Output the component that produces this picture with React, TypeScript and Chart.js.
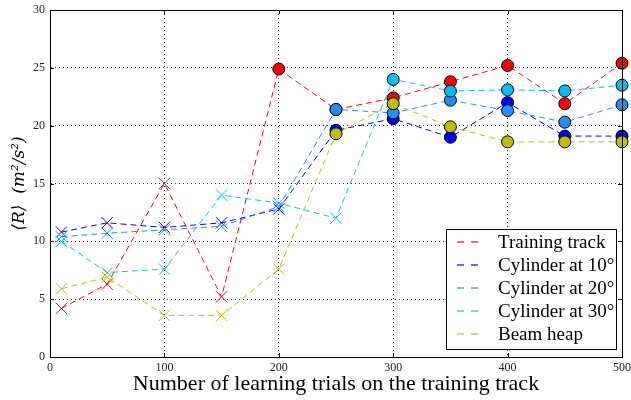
import React, { useEffect, useRef } from 'react';
import { Chart, registerables } from 'chart.js';
Chart.register(...registerables);

const trials = [10, 50, 100, 150, 200, 250, 300, 350, 400, 450, 500];
const seriesNames = ['Training track', 'Cylinder at 10°', 'Cylinder at 20°', 'Cylinder at 30°', 'Beam heap'];
const trainingTrack = [4.2, 6.3, 15.0, 5.2, 24.9, 21.4, 22.4, 23.8, 25.2, 21.9, 25.4];
const cylinder10 = [10.8, 11.6, 11.2, 11.6, 12.8, 19.6, 20.6, 19.0, 22.0, 19.1, 19.1];
const cylinder20 = [10.4, 10.7, 11.0, 11.3, 13.0, 21.4, 21.1, 22.2, 21.3, 20.3, 21.8];
const cylinder30 = [10.0, 7.3, 7.6, 14.0, 13.3, 12.0, 24.0, 23.0, 23.1, 23.0, 23.5];
const beamHeap = [5.9, 6.9, 3.6, 3.6, 7.6, 19.3, 21.9, 19.9, 18.6, 18.6, 18.6];
const xTicks = [0, 100, 200, 300, 400, 500];
const yTicks = [0, 5, 10, 15, 20, 25, 30];

const colors = ['#ff0000', '#0000ff', '#1e90ff', '#00bfff', '#bfbf00'];
const legendColors = ['rgba(255,0,0,0.6)', 'rgba(0,0,255,0.6)', 'rgba(30,144,255,0.6)', 'rgba(0,191,255,0.6)', 'rgba(191,191,0,0.6)'];
const SERIF = '"Liberation Serif", "DejaVu Serif", serif';
const WIDE_SERIF = '"DejaVu Serif", "Liberation Serif", serif';

export default function App() {
  const ref = useRef<HTMLCanvasElement>(null);
  useEffect(() => {
    const all = [trainingTrack, cylinder10, cylinder20, cylinder30, beamHeap];
    const isCircle = (v: number) => v >= 17;
    const datasets = all.map((vals, i) => ({
      label: seriesNames[i],
      data: vals.map((v, j) => ({ x: trials[j], y: v })),
      borderColor: colors[i],
      backgroundColor: colors[i],
      borderWidth: 1,
      borderDash: [6, 4],
      pointStyle: vals.map(v => (isCircle(v) ? 'circle' : 'crossRot')),
      pointRadius: vals.map(v => (isCircle(v) ? 6 : 8)),
      pointBorderColor: vals.map(v => (isCircle(v) ? '#000' : colors[i])),
      pointBackgroundColor: colors[i],
      pointBorderWidth: 1,
      order: 5 - i,
      fill: false,
      tension: 0,
      clip: false as any,
    }));

    const framePlugin = {
      id: 'frame',
      afterDraw(chart: any) {
        const { ctx, chartArea: a, scales } = chart;
        ctx.save();
        ctx.strokeStyle = '#000';
        ctx.lineWidth = 1;
        ctx.setLineDash([]);
        ctx.beginPath();
        for (const t of xTicks) {
          const x = Math.round(scales.x.getPixelForValue(t)) + 0.5;
          ctx.moveTo(x, a.bottom); ctx.lineTo(x, a.bottom - 4);
          ctx.moveTo(x, a.top); ctx.lineTo(x, a.top + 4);
        }
        for (const t of yTicks) {
          const y = Math.round(scales.y.getPixelForValue(t)) + 0.5;
          ctx.moveTo(a.left, y); ctx.lineTo(a.left + 4, y);
          ctx.moveTo(a.right, y); ctx.lineTo(a.right - 4, y);
        }
        ctx.stroke();
        ctx.strokeRect(Math.round(a.left) + 0.5, Math.round(a.top) + 0.5, Math.round(a.right - a.left), Math.round(a.bottom - a.top));

        // legend
        const bx = 446.5, by = 229.5, bw = 170, bh = 120;
        ctx.fillStyle = '#fff';
        ctx.fillRect(bx, by, bw, bh);
        ctx.strokeStyle = '#000';
        ctx.strokeRect(bx, by, bw, bh);
        ctx.font = '19px ' + SERIF;
        ctx.textBaseline = 'middle';
        ctx.textAlign = 'left';
        seriesNames.forEach((name, i) => {
          const y = 242 + i * 23;
          ctx.strokeStyle = legendColors[i];
          ctx.lineWidth = 2;
          ctx.beginPath();
          ctx.moveTo(457, y); ctx.lineTo(464, y);
          ctx.moveTo(471, y); ctx.lineTo(478, y);
          ctx.stroke();
          ctx.fillStyle = '#000';
          ctx.fillText(name, 498, y + 1);
        });
        ctx.restore();
      },
    };

    const chart = new Chart(ref.current as HTMLCanvasElement, {
      type: 'line',
      data: { datasets: datasets as any },
      options: {
        animation: false,
        responsive: false,
        maintainAspectRatio: false,
        layout: { padding: { top: 10, right: 6, left: 0, bottom: 0 } },
        plugins: { legend: { display: false }, tooltip: { enabled: false } },
        scales: {
          x: {
            type: 'linear',
            min: 0,
            max: 500,
            afterBuildTicks(s: any) { s.ticks = xTicks.map(v => ({ value: v })); },
            afterFit(s: any) { s.height = 43; s.paddingLeft = 0; s.paddingRight = 0; },
            grid: { color: 'rgba(0,0,0,0.8)', lineWidth: 1, drawTicks: false } as any,
            border: { display: true, color: '#000', dash: [1, 3] } as any,
            ticks: { color: '#222', font: { family: SERIF, size: 12 }, padding: 4, maxRotation: 0, autoSkip: false },
            title: { display: true, text: 'Number of learning trials on the training track', color: '#000', font: { family: SERIF, size: 22 }, padding: { top: 0, bottom: 3 } },
          },
          y: {
            type: 'linear',
            min: 0,
            max: 30,
            afterBuildTicks(s: any) { s.ticks = yTicks.map(v => ({ value: v })); },
            afterFit(s: any) { s.width = 50; s.paddingTop = 0; s.paddingBottom = 0; },
            grid: { color: 'rgba(0,0,0,0.8)', lineWidth: 1, drawTicks: false } as any,
            border: { display: true, color: '#000', dash: [1, 3] } as any,
            ticks: { color: '#222', font: { family: SERIF, size: 12 }, padding: 5 },
            title: { display: true, text: '⟨R⟩  (m²/s²)', color: '#000', font: { family: WIDE_SERIF, size: 17, style: 'italic' }, padding: { top: 9, bottom: 0 } },
          },
        },
      } as any,
      plugins: [framePlugin],
    });
    return () => chart.destroy();
  }, []);

  return (
    <div style={{ position: 'fixed', left: 0, top: 0, width: 631, height: 400, background: '#fff' }}>
      <canvas ref={ref} width={631} height={400} style={{ width: 631, height: 400 }} />
    </div>
  );
}
